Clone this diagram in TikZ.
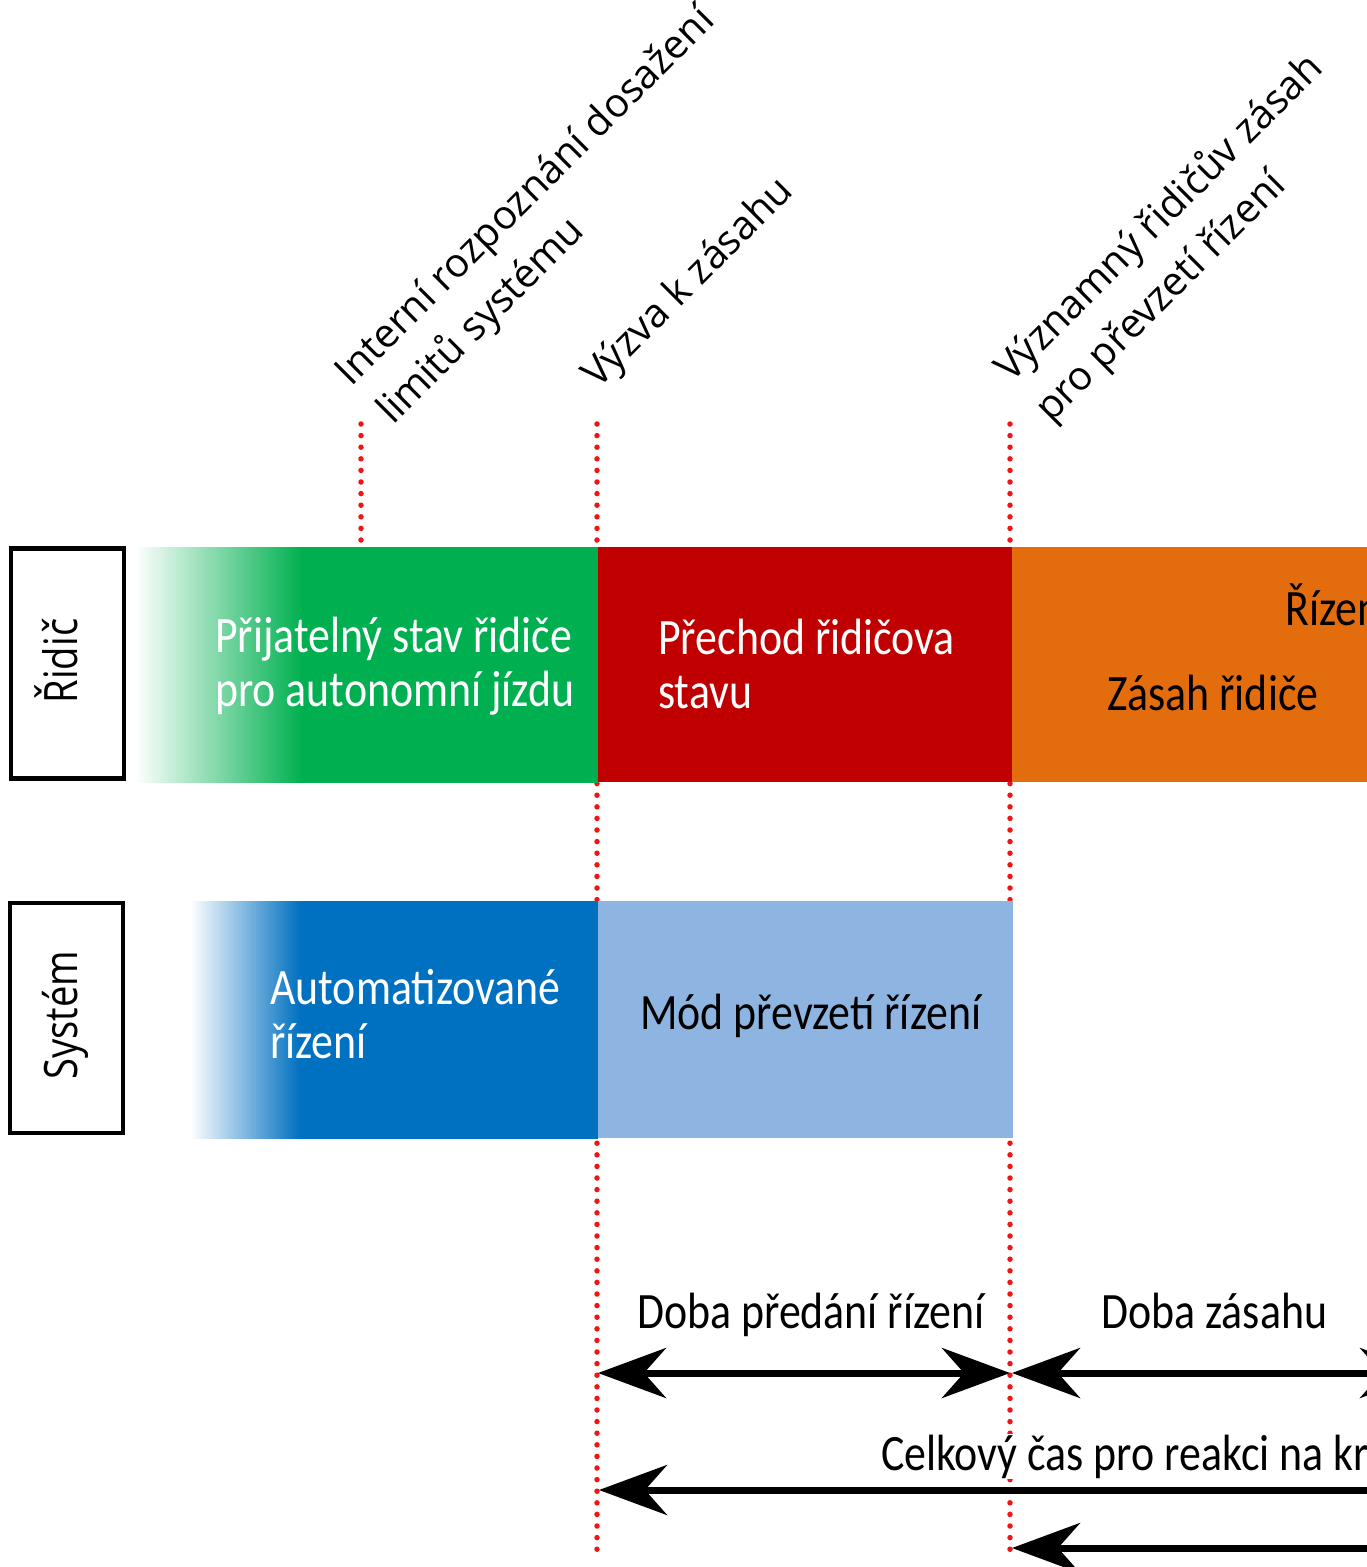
\documentclass[tikz,border=0pt]{standalone}
\usepackage{fontspec}
\setmainfont{Open Sans}
\newfontfamily\boxfont[FakeStretch=0.86]{Carlito}
\newfontfamily\lanefont[FakeStretch=0.83]{Open Sans}
\usetikzlibrary{arrows.meta}
\definecolor{cgreen}{RGB}{0,176,80}
\definecolor{cred}{RGB}{192,0,0}
\definecolor{corange}{RGB}{227,108,13}
\definecolor{cblue}{RGB}{0,112,192}
\definecolor{clblue}{RGB}{142,180,226}
\definecolor{cdot}{RGB}{240,20,20}
\pgfdeclarehorizontalshading{greenfade}{100bp}{color(0bp)=(white); color(25bp)=(white); color(43bp)=(cgreen); color(100bp)=(cgreen)}
\pgfdeclarehorizontalshading{bluefade}{100bp}{color(0bp)=(white); color(25bp)=(white); color(38.5bp)=(cblue); color(100bp)=(cblue)}
\tikzset{
  marker/.style={cdot, line width=5.5pt, line cap=round, dash pattern=on 0pt off 11.6pt},
  lanebox/.style={draw=black, line width=4.5pt, fill=white},
  lanelabel/.style={font=\lanefont\fontsize{46}{52}\selectfont, rotate=90, anchor=base, inner sep=0pt},
  slant/.style={font=\fontsize{40}{48}\selectfont, rotate=45, anchor=base west, inner sep=0pt},
  bandtext/.style={font=\boxfont\fontsize{51}{54}\selectfont, anchor=base west, inner sep=0pt},
  timearrow/.style={line width=7pt, black},
  tip/.tip={Stealth[length=68pt, width=50pt, inset=22pt]}
}
\begin{document}
\begin{tikzpicture}[x=1pt, y=-1pt]
\useasboundingbox (0,0) rectangle (1367,1567);
\clip (0,0) rectangle (1367,1567);

% event markers
\coordinate (e1top) at (361,424);
\coordinate (e1bot) at (361,546);
\coordinate (e2top) at (597,424);
\coordinate (e2bot) at (597,1552);
\coordinate (e3top) at (1010,424);
\coordinate (e3bot) at (1010,1552);
\draw[marker] (e1top) -- (e1bot);
\draw[marker] (e2top) -- (e2bot);
\draw[marker] (e3top) -- (e3bot);

% driver band
\shade[shading=greenfade] (135,547) rectangle (598,782);
\fill[cred] (598,547) rectangle (1012,782);
\fill[corange] (1012,547) rectangle (1367,782);

% system band
\shade[shading=bluefade] (190,901) rectangle (598,1138);
\fill[clblue] (598,901) rectangle (1013,1138);

% lane labels
\node[lanebox, minimum width=113pt, minimum height=230pt] (ridicbox) at (67.5,663.5) {};
\node[lanelabel] (ridic) at (77,661) {Řidič};
\node[lanebox, minimum width=113pt, minimum height=230pt] (systembox) at (66.5,1018) {};
\node[lanelabel] (system) at (77,1015) {Systém};

% slanted labels
\node[slant] (l1a) at (351,388) {Interní rozpoznání dosažení};
\node[slant] (l1b) at (393,426) {limitů systému};
\node[slant] (l2) at (598,390) {Výzva k zásahu};
\node[slant] (l3a) at (1011,384) {Významný řidičův zásah};
\node[slant] (l3b) at (1051,424) {pro převzetí řízení};

% band texts
\node[bandtext, white] (g1) at (215,652) {Přijatelný stav řidiče};
\node[bandtext, white] (g2) at (215,706) {pro autonomní jízdu};
\node[bandtext, white] (r1) at (658,654) {Přechod řidičova};
\node[bandtext, white] (r2) at (658,708) {stavu};
\node[bandtext] (o1) at (1285,625) {Řízení};
\node[bandtext] (o2) at (1107,710) {Zásah řidiče};
\node[bandtext, white] (b1) at (270,1004) {Automatizované};
\node[bandtext, white] (b2) at (270,1058) {řízení};
\node[bandtext] (lb) at (640,1029) {Mód převzetí řízení};

% durations
\node[bandtext] (d1) at (637,1328) {Doba předání řízení};
\node[bandtext] (d2) at (1101,1328) {Doba zásahu};
\node[bandtext, fill=white, inner sep=1pt] (d3) at (880,1470) {Celkový čas pro reakci na kr};

\coordinate (a1l) at (598,1373);
\coordinate (a1r) at (1010,1373);
\coordinate (a2l) at (1012,1373);
\coordinate (a2r) at (1428,1373);
\coordinate (a3l) at (599,1490);
\coordinate (a3r) at (1450,1490);
\coordinate (a4l) at (1012,1548);
\coordinate (a4r) at (1450,1548);
\draw[timearrow, {tip}-{tip}] (a1l) -- (a1r);
\draw[timearrow, {tip}-{tip}] (a2l) -- (a2r);
\draw[timearrow, {tip}-] (a3l) -- (a3r);
\draw[timearrow, {tip}-] (a4l) -- (a4r);
\end{tikzpicture}
\end{document}
